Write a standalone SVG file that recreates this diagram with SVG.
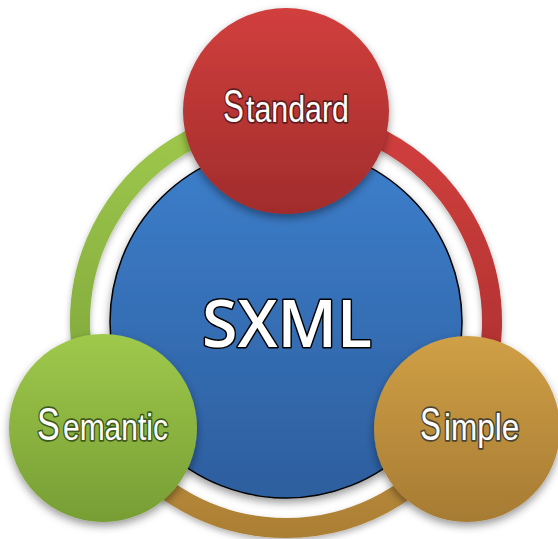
<svg xmlns="http://www.w3.org/2000/svg" width="558" height="539" viewBox="0 0 558 539">
<defs>
<linearGradient id="gBlue" x1="0" y1="0" x2="0" y2="1"><stop offset="0" stop-color="#3D7FCC"/><stop offset="1" stop-color="#2D5E9E"/></linearGradient>
<linearGradient id="gRed" x1="0" y1="0" x2="0" y2="1"><stop offset="0" stop-color="#D13F3D"/><stop offset="1" stop-color="#A12C2C"/></linearGradient>
<linearGradient id="gGreen" x1="0" y1="0" x2="0" y2="1"><stop offset="0" stop-color="#9FC94B"/><stop offset="1" stop-color="#769E35"/></linearGradient>
<linearGradient id="gGold" x1="0" y1="0" x2="0" y2="1"><stop offset="0" stop-color="#D0A046"/><stop offset="1" stop-color="#A67B33"/></linearGradient>
<linearGradient id="aRed" gradientUnits="userSpaceOnUse" x1="0" y1="110" x2="0" y2="430"><stop offset="0" stop-color="#D3403E"/><stop offset="1" stop-color="#A82E2E"/></linearGradient>
<linearGradient id="aGreen" gradientUnits="userSpaceOnUse" x1="0" y1="110" x2="0" y2="430"><stop offset="0" stop-color="#A0CA4C"/><stop offset="1" stop-color="#7AA23A"/></linearGradient>
<linearGradient id="aGold" gradientUnits="userSpaceOnUse" x1="0" y1="420" x2="0" y2="540"><stop offset="0" stop-color="#C1913E"/><stop offset="1" stop-color="#AA7E34"/></linearGradient>
<filter id="sh" x="-20%" y="-20%" width="140%" height="150%"><feDropShadow dx="0" dy="4" stdDeviation="4" flood-color="#000" flood-opacity="0.4"/></filter>
<filter id="shs" x="-20%" y="-20%" width="140%" height="150%"><feDropShadow dx="0" dy="3" stdDeviation="3" flood-color="#000" flood-opacity="0.3"/></filter>
</defs>
<style>
.arc{fill:none;stroke-width:20}
.lbl{font-family:"Liberation Sans",Arial,sans-serif;font-size:37px;fill:#fff;stroke-width:3.4;paint-order:stroke;stroke-linejoin:round}
.big{font-size:46px}
.core{font-family:"Open Sans","DejaVu Sans",sans-serif;font-size:66px;font-weight:600;fill:#fff;stroke:#000;stroke-width:3;paint-order:stroke;stroke-linejoin:round}
</style>
<g id="connectors" filter="url(#shs)">
<path class="arc" stroke="url(#aRed)" d="M286,116 A206,206 0 0 1 464.4,425"/>
<path class="arc" stroke="url(#aGold)" d="M464.4,425 A206,206 0 0 1 107.6,425"/>
<path class="arc" stroke="url(#aGreen)" d="M107.6,425 A206,206 0 0 1 286,116"/>
</g>
<g id="sxml">
<circle cx="286" cy="322" r="176" fill="url(#gBlue)" stroke="#000" stroke-width="1.5" filter="url(#sh)"/>
<text class="core" x="287" y="347" text-anchor="middle" textLength="170" lengthAdjust="spacingAndGlyphs">SXML</text>
</g>
<g id="standard">
<circle cx="286" cy="111" r="103" fill="url(#gRed)" filter="url(#sh)"/>
<text class="lbl big" transform="matrix(0.68,0,0,1,223,122)" stroke="#5E1C1C">S</text>
<text class="lbl" transform="matrix(0.82,0,0,1,246,122)" stroke="#5E1C1C">tandard</text>
</g>
<g id="semantic">
<circle cx="103" cy="428" r="94" fill="url(#gGreen)" filter="url(#sh)"/>
<text class="lbl big" transform="matrix(0.74,0,0,1,37,440)" stroke="#3F5A1C">S</text>
<text class="lbl" transform="matrix(0.81,0,0,1,63,440)" stroke="#3F5A1C">emantic</text>
</g>
<g id="simple">
<circle cx="467" cy="429" r="93" fill="url(#gGold)" filter="url(#sh)"/>
<text class="lbl big" transform="matrix(0.68,0,0,1,420,440)" stroke="#4A4430">S</text>
<text class="lbl" transform="matrix(0.85,0,0,1,444,440)" stroke="#4A4430">imple</text>
</g>
</svg>
